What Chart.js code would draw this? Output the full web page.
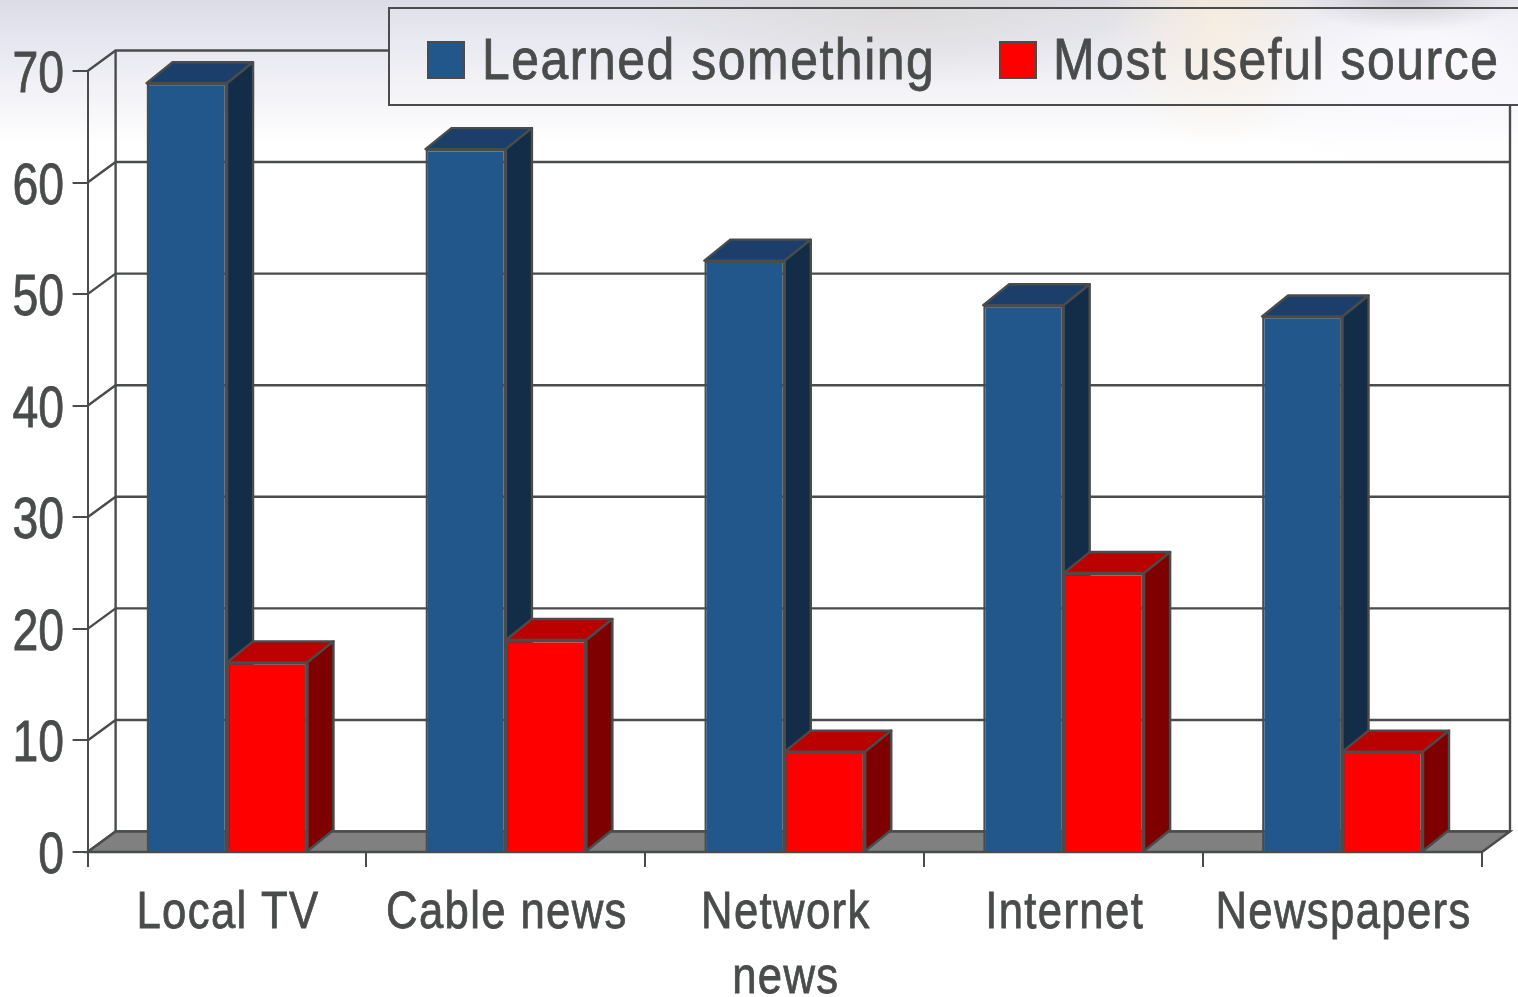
<!DOCTYPE html>
<html lang="en">
<head>
<meta charset="UTF-8">
<title>News sources</title>
<style>
    html, body { margin: 0; padding: 0; }
    body {
        width: 1518px;
        height: 997px;
        overflow: hidden;
        background-color: #fff;
        background-image:
            radial-gradient(ellipse 110px 32px at 1410px 0, rgba(180,180,186,.6), rgba(180,180,186,0)),
            radial-gradient(ellipse 110px 130px at 1215px 20px, rgba(255,240,215,.7), rgba(255,240,215,0)),
            radial-gradient(ellipse 240px 120px at 1430px 60px, rgba(252,250,255,1), rgba(252,250,255,0)),
            radial-gradient(ellipse 280px 80px at 900px 8px, rgba(216,214,214,.9), rgba(216,214,214,0)),
            linear-gradient(#dcdce6 0, #e6e6f0 40px, #f3f3f7 95px, #fff 145px);
        background-repeat: no-repeat;
    }
    canvas { display: block; }
</style>
<script src="https://cdn.jsdelivr.net/npm/chart.js"></script>
</head>
<body>
<canvas id="sourcesChart" width="1518" height="997"></canvas>
<script>
const categories = ['Local TV', 'Cable news', ['Network', 'news'], 'Internet', 'Newspapers'];
const learnedSomething = [68.9, 63, 53, 49, 48];
const mostUsefulSource = [17, 19, 9, 25, 9];

const lineColor = '#4a4c4c';
const textFont = '"Liberation Sans", Arial, sans-serif';

// offsets of the wall/floor and of the bar depth
const wallDx = 28, wallDy = 20.5;
const barDx = 26, barDy = 21;

const legendBox = { left: 389, top: 8, right: 1530, bottom: 105 };

const depthColors = [
    { top: '#1b3f6a', side: '#132d48' },
    { top: '#bb0000', side: '#7f0000' }
];

function polygon(ctx, points, fill) {
    ctx.beginPath();
    points.forEach((p, i) => i ? ctx.lineTo(p[0], p[1]) : ctx.moveTo(p[0], p[1]));
    ctx.closePath();
    if (fill) {
        ctx.fillStyle = fill;
        ctx.fill();
    }
    ctx.stroke();
}

// no narrow face is installed, so the labels are squeezed horizontally
// and thickened a little with a stroke
function narrowText(ctx, text, x, y, size, squeeze, spacing, align) {
    ctx.save();
    ctx.translate(x, y);
    ctx.scale(squeeze, 1);
    ctx.font = size + 'px ' + textFont;
    ctx.letterSpacing = spacing + 'px';
    ctx.textAlign = align;
    ctx.textBaseline = 'alphabetic';
    ctx.fillStyle = lineColor;
    ctx.strokeStyle = lineColor;
    ctx.lineWidth = 0.8;
    ctx.fillText(text, 0, 0);
    ctx.strokeText(text, 0, 0);
    ctx.restore();
}

const wallPlugin = {
    id: 'wall',
    beforeDraw(chart) {
        const { ctx, chartArea: area, scales } = chart;
        const backLeft = area.left + wallDx, backRight = area.right + wallDx;
        const floorY = scales.y.getPixelForValue(0);

        ctx.save();
        // the legend sits on top of the wall, nothing shows through it
        ctx.beginPath();
        ctx.rect(0, 0, chart.width, chart.height);
        ctx.rect(legendBox.left, legendBox.top, legendBox.right - legendBox.left, legendBox.bottom - legendBox.top);
        ctx.clip('evenodd');

        ctx.strokeStyle = lineColor;
        ctx.lineWidth = 2.4;

        scales.y.ticks.forEach(t => {
            const y = scales.y.getPixelForValue(t.value);
            ctx.beginPath();
            ctx.moveTo(area.left, y);
            ctx.lineTo(backLeft, y - wallDy);
            ctx.lineTo(backRight, y - wallDy);
            ctx.stroke();
        });

        ctx.beginPath();
        ctx.moveTo(backLeft, floorY - wallDy);
        ctx.lineTo(backLeft, area.top - wallDy);
        ctx.moveTo(backRight, floorY - wallDy);
        ctx.lineTo(backRight, area.top - wallDy);
        ctx.stroke();

        polygon(ctx, [
            [area.left, floorY],
            [backLeft, floorY - wallDy],
            [backRight, floorY - wallDy],
            [area.right, floorY]
        ], '#808080');
        ctx.restore();
    }
};

// top and side faces of each bar, read from the bar elements
const barDepthPlugin = {
    id: 'barDepth',
    beforeDatasetsDraw(chart) {
        const { ctx } = chart;
        ctx.save();
        ctx.strokeStyle = lineColor;
        ctx.lineWidth = 2.4;
        ctx.lineJoin = 'round';
        depthColors.forEach((colors, index) => {
            chart.getDatasetMeta(index).data.forEach(bar => {
                const l = bar.x - bar.width / 2, r = bar.x + bar.width / 2;
                polygon(ctx, [[l, bar.y], [r, bar.y], [r + barDx, bar.y - barDy], [l + barDx, bar.y - barDy]], colors.top);
                polygon(ctx, [[r, bar.y], [r + barDx, bar.y - barDy], [r + barDx, bar.base - barDy], [r, bar.base]], colors.side);
            });
        });
        ctx.restore();
    }
};

const axisLabelsPlugin = {
    id: 'axisLabels',
    afterDraw(chart) {
        const { ctx, scales } = chart;
        scales.y.ticks.forEach(t => {
            narrowText(ctx, String(t.value), 64, scales.y.getPixelForValue(t.value) + 21, 58, 0.8, 0, 'right');
        });
        scales.x.ticks.forEach((t, i) => {
            const lines = [].concat(categories[i]);
            lines.forEach((line, n) => {
                narrowText(ctx, line, scales.x.getPixelForTick(i) + 1, 928 + n * 65, 52, 0.84, 1.6, 'center');
            });
        });
    }
};

const legendPlugin = {
    id: 'boxLegend',
    afterDraw(chart) {
        const { ctx } = chart;
        const swatchX = [428, 1000], textX = [482, 1053];
        ctx.save();
        ctx.fillStyle = 'rgba(255,255,255,.12)';
        ctx.fillRect(legendBox.left, legendBox.top, legendBox.right - legendBox.left, legendBox.bottom - legendBox.top);
        ctx.strokeStyle = lineColor;
        ctx.lineWidth = 2;
        ctx.strokeRect(legendBox.left, legendBox.top, legendBox.right - legendBox.left, legendBox.bottom - legendBox.top);

        chart.data.datasets.forEach((ds, i) => {
            ctx.fillStyle = ds.backgroundColor;
            ctx.fillRect(swatchX[i], 42, 36, 36);
            ctx.strokeRect(swatchX[i], 42, 36, 36);
            narrowText(ctx, ds.label, textX[i], 79, 58, 0.86, 1.8, 'left');
        });
        ctx.restore();
    }
};

new Chart(document.getElementById('sourcesChart'), {
    type: 'bar',
    data: {
        labels: categories,
        datasets: [{
            label: 'Learned something',
            data: learnedSomething,
            backgroundColor: '#22578c',
            borderColor: lineColor,
            borderWidth: 2.4
        }, {
            label: 'Most useful source',
            data: mostUsefulSource,
            backgroundColor: '#ff0000',
            borderColor: lineColor,
            borderWidth: 2.4
        }]
    },
    options: {
        responsive: false,
        animation: false,
        layout: { padding: { top: 71, right: 36 } },
        datasets: { bar: { barPercentage: 1, categoryPercentage: 0.577 } },
        plugins: {
            legend: { display: false },
            tooltip: { enabled: false }
        },
        scales: {
            x: {
                afterFit(scale) { scale.height = 145; },
                border: { color: lineColor, width: 2 },
                grid: { drawOnChartArea: false, color: lineColor, lineWidth: 2, tickLength: 15 },
                ticks: { display: false, autoSkip: false, maxRotation: 0 }
            },
            y: {
                min: 0,
                max: 70,
                afterFit(scale) { scale.width = 87.6; },
                border: { color: lineColor, width: 2 },
                grid: { drawOnChartArea: false, color: lineColor, lineWidth: 2, tickLength: 15 },
                ticks: { display: false, stepSize: 10 }
            }
        }
    },
    plugins: [wallPlugin, barDepthPlugin, axisLabelsPlugin, legendPlugin]
});
</script>
</body>
</html>
